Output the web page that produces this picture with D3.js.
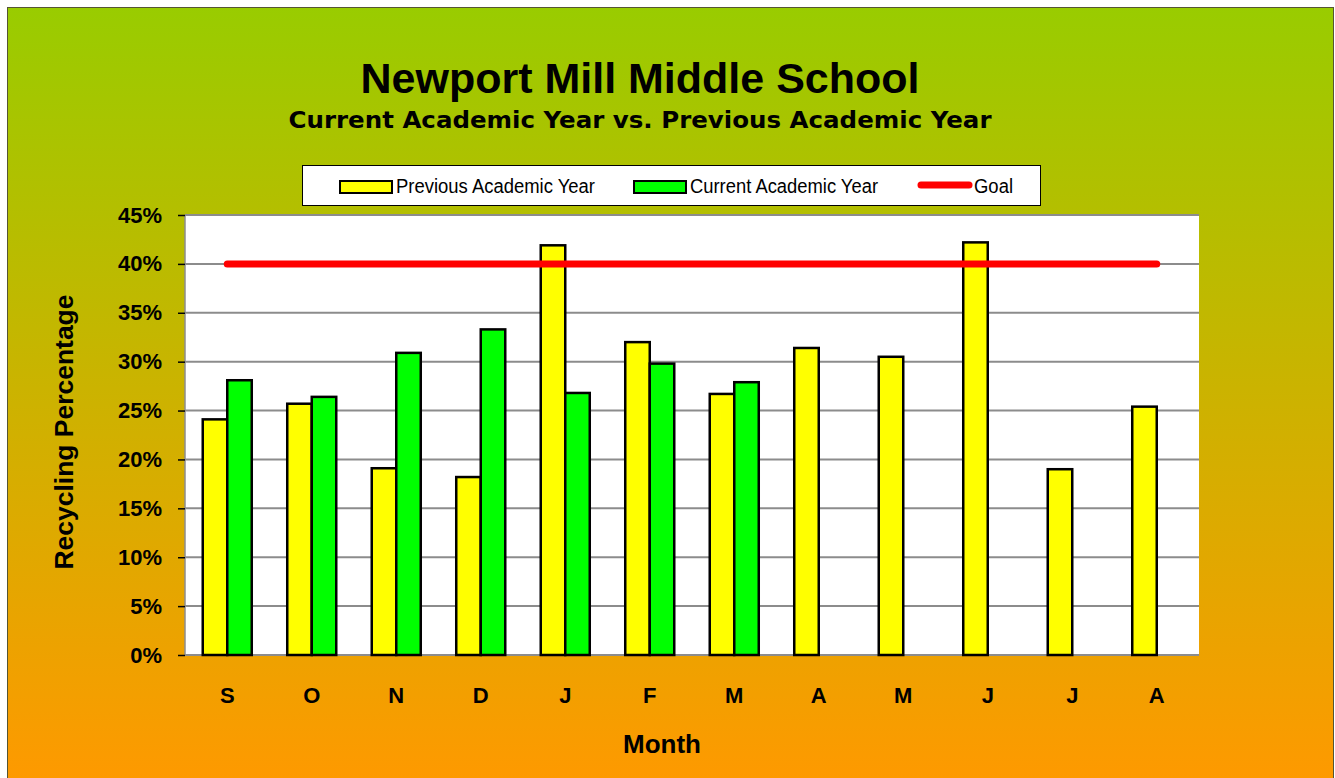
<!DOCTYPE html>
<html>
<head>
<meta charset="utf-8">
<script src="https://cdn.jsdelivr.net/npm/d3@7"></script>
<style>
  body { margin: 0; background: #ffffff; }
  svg { display: block; }
</style>
</head>
<body>
<div id="chart"></div>
<script>
// months, Sept through Aug
const months = ["S", "O", "N", "D", "J", "F", "M", "A", "M", "J", "J", "A"];
const previousYear = [24.1, 25.7, 19.1, 18.2, 41.9, 32.0, 26.7, 31.4, 30.5, 42.2, 19.0, 25.4];
const currentYear = [28.1, 26.4, 30.9, 33.3, 26.8, 29.8, 27.9, null, null, null, null, null];
const goal = 40;
const yTicks = [0, 5, 10, 15, 20, 25, 30, 35, 40, 45];
const seriesNames = ["Previous Academic Year", "Current Academic Year", "Goal"];

const W = 1335, H = 778;
const plot = { left: 185, top: 215, right: 1199, bottom: 655 };
const boldFont = "Arial, 'Liberation Sans', sans-serif";

const svg = d3.select("#chart").append("svg")
    .attr("width", W)
    .attr("height", H);

// background gradient
const defs = svg.append("defs");
const grad = defs.append("linearGradient")
    .attr("id", "bg")
    .attr("x1", 0).attr("y1", 0).attr("x2", 0).attr("y2", 1);
grad.append("stop").attr("offset", "0%").attr("stop-color", "#99cc00");
grad.append("stop").attr("offset", "100%").attr("stop-color", "#ff9900");

svg.append("rect")
    .attr("x", 7.5).attr("y", 7.5)
    .attr("width", W - 9).attr("height", H)
    .attr("fill", "url(#bg)")
    .attr("stroke", "#555533")
    .attr("stroke-width", 1);

// scales
const x = d3.scaleBand()
    .domain(d3.range(months.length))
    .range([plot.left, plot.right]);

const y = d3.scaleLinear()
    .domain([0, 45])
    .range([plot.bottom, plot.top]);

const barW = x.bandwidth() * 0.29;

// plot area
svg.append("rect")
    .attr("x", plot.left).attr("y", plot.top)
    .attr("width", plot.right - plot.left)
    .attr("height", plot.bottom - plot.top)
    .attr("fill", "white");

// gridlines
svg.append("g")
    .selectAll("line")
    .data(yTicks)
    .join("line")
    .attr("x1", plot.left).attr("x2", plot.right)
    .attr("y1", d => y(d)).attr("y2", d => y(d))
    .attr("stroke", "#8c8c8c")
    .attr("stroke-width", 2);

svg.append("line")
    .attr("x1", plot.left).attr("x2", plot.left)
    .attr("y1", plot.top).attr("y2", plot.bottom)
    .attr("stroke", "#8c8c8c")
    .attr("stroke-width", 1.5);

// y axis
const yAxis = svg.append("g")
    .attr("transform", `translate(${plot.left},0)`)
    .call(d3.axisLeft(y).tickValues(yTicks).tickSize(7).tickPadding(16).tickFormat(d => d + "%"));
yAxis.select(".domain").remove();
yAxis.selectAll(".tick line").attr("stroke", "black").attr("stroke-width", 1.5);
yAxis.selectAll("text")
    .attr("font-family", boldFont)
    .attr("font-weight", "bold")
    .attr("font-size", "22px")
    .attr("fill", "black");

// x axis labels
const xAxis = svg.append("g")
    .attr("transform", `translate(0,${plot.bottom})`)
    .call(d3.axisBottom(x).tickSize(0).tickPadding(32).tickFormat(i => months[i]));
xAxis.select(".domain").remove();
xAxis.selectAll("text")
    .attr("font-family", boldFont)
    .attr("font-weight", "bold")
    .attr("font-size", "22px")
    .attr("fill", "black");

// bars
const barStyle = { stroke: "black", strokeWidth: 2.5 };

svg.append("g")
    .selectAll("rect")
    .data(previousYear)
    .join("rect")
    .attr("x", (d, i) => x(i) + x.bandwidth() / 2 - barW)
    .attr("y", d => y(d))
    .attr("width", barW)
    .attr("height", d => y(0) - y(d))
    .attr("fill", "#ffff00")
    .attr("stroke", barStyle.stroke)
    .attr("stroke-width", barStyle.strokeWidth);

svg.append("g")
    .selectAll("rect")
    .data(currentYear.map((v, i) => ({ v, i })).filter(d => d.v != null))
    .join("rect")
    .attr("x", d => x(d.i) + x.bandwidth() / 2)
    .attr("y", d => y(d.v))
    .attr("width", barW)
    .attr("height", d => y(0) - y(d.v))
    .attr("fill", "#00ff00")
    .attr("stroke", barStyle.stroke)
    .attr("stroke-width", barStyle.strokeWidth);

// goal line
const goalLine = d3.line()
    .x(i => x(i) + x.bandwidth() / 2)
    .y(() => y(goal));

svg.append("path")
    .attr("d", goalLine(d3.range(months.length)))
    .attr("fill", "none")
    .attr("stroke", "#ff0000")
    .attr("stroke-width", 7)
    .attr("stroke-linecap", "round");

// titles
svg.append("text")
    .attr("x", 640).attr("y", 93)
    .attr("text-anchor", "middle")
    .attr("font-family", boldFont)
    .attr("font-weight", "bold")
    .attr("font-size", "43px")
    .text("Newport Mill Middle School");

svg.append("text")
    .attr("x", 640).attr("y", 128)
    .attr("text-anchor", "middle")
    .attr("font-family", "Verdana, 'DejaVu Sans', sans-serif")
    .attr("font-weight", "bold")
    .attr("font-size", "23px")
    .attr("textLength", 703)
    .attr("lengthAdjust", "spacingAndGlyphs")
    .text("Current Academic Year vs. Previous Academic Year");

svg.append("text")
    .attr("x", 662).attr("y", 753)
    .attr("text-anchor", "middle")
    .attr("font-family", boldFont)
    .attr("font-weight", "bold")
    .attr("font-size", "26px")
    .text("Month");

svg.append("text")
    .attr("transform", "translate(73,432) rotate(-90)")
    .attr("text-anchor", "middle")
    .attr("font-family", boldFont)
    .attr("font-weight", "bold")
    .attr("font-size", "26px")
    .attr("textLength", 275)
    .attr("lengthAdjust", "spacingAndGlyphs")
    .text("Recycling Percentage");

// legend
const legend = svg.append("g");
legend.append("rect")
    .attr("x", 302.5).attr("y", 165.5)
    .attr("width", 738).attr("height", 40)
    .attr("fill", "white")
    .attr("stroke", "black")
    .attr("stroke-width", 1);

const legendX = [340, 634, 918];
const legendTextW = [199, 188, 39];
seriesNames.forEach((name, i) => {
    const g = legend.append("g").attr("transform", `translate(${legendX[i]},187)`);
    if (i < 2) {
        g.append("rect")
            .attr("x", 0).attr("y", -6)
            .attr("width", 52).attr("height", 12)
            .attr("fill", i === 0 ? "#ffff00" : "#00ff00")
            .attr("stroke", "black")
            .attr("stroke-width", 2);
    } else {
        g.append("line")
            .attr("x1", 3).attr("x2", 51)
            .attr("y1", -2).attr("y2", -2)
            .attr("stroke", "#ff0000")
            .attr("stroke-width", 7)
            .attr("stroke-linecap", "round");
    }
    g.append("text")
        .attr("x", 56)
        .attr("y", 6)
        .attr("font-family", "'Liberation Sans Narrow', 'Arial Narrow', Arial, sans-serif")
        .attr("font-size", "20px")
        .attr("textLength", legendTextW[i])
        .attr("lengthAdjust", "spacingAndGlyphs")
        .text(name);
});
</script>
</body>
</html>
